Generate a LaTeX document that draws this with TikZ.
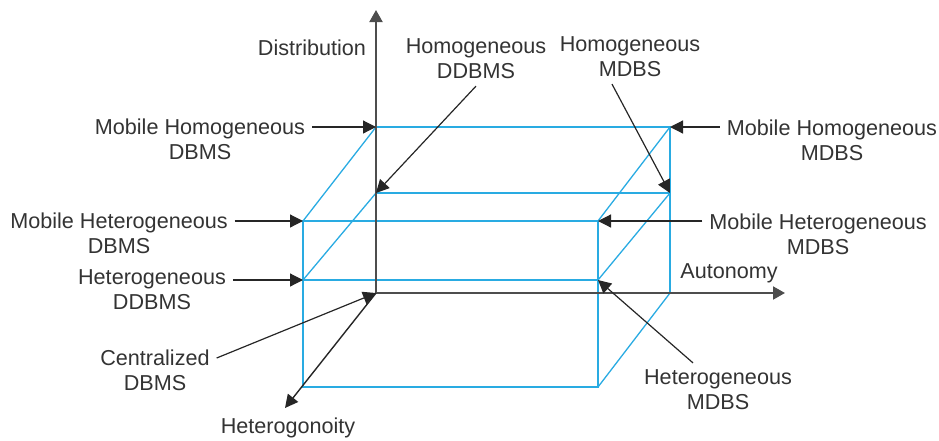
\documentclass[tikz,border=0pt]{standalone}
\usepackage{fontspec}
\setmainfont{Liberation Sans}
\usetikzlibrary{arrows.meta,calc,positioning}
\definecolor{cube}{HTML}{29ABE2}
\definecolor{ink}{HTML}{333333}
\definecolor{axisgray}{HTML}{4D4D4D}
\tikzset{>=Triangle,
  every node/.style={font=\fontsize{10.8}{12.5}\selectfont,text=ink,align=center},
  axis/.style={-{Triangle[length=6pt,width=6.5pt]},draw=axisgray,line width=1pt},
  cubeline/.style={draw=cube,line width=.65pt},
  pointer/.style={-{Triangle[length=6.5pt,width=6.5pt]},draw=black!85,line width=.6pt}}

\begin{document}
\begin{tikzpicture}[x=.5pt,y=-.5pt]
\useasboundingbox (0,0) rectangle (939,440);
% corners of the box
\coordinate (O) at (376,293);\coordinate (bTL) at (376,127);\coordinate (bTR) at (670,127);
\coordinate (bML) at (376,193);\coordinate (bMR) at (670,193);\coordinate (bBR) at (670,293);
\coordinate (fTL) at (303,221);\coordinate (fTR) at (598,221);
\coordinate (fML) at (303,280);\coordinate (fMR) at (598,280);
\coordinate (fBL) at (303,387);\coordinate (fBR) at (598,387);
\coordinate (distEnd) at (376,10);\coordinate (autoEnd) at (785,293);\coordinate (hetEnd) at (285,408);
% box
\draw[cubeline] (bTL)--(bTR)--(bBR) (bML)--(bMR);
\draw[cubeline] (fTL)--(fTR)--(fBR)--(fBL)--cycle (fML)--(fMR);
\draw[cubeline] (bTL)--(fTL) (bML)--(fML) (bTR)--(fTR) (bMR)--(fMR) (bBR)--(fBR);
% axes
\draw[axis] (O)--(distEnd);\draw[axis] (O)--(autoEnd);\draw[pointer,line width=.7pt] (O)--(hetEnd);
\node (distlbl) at (312,48) {Distribution};
\node (autolbl) at (729,273) {Autonomy};
\node (hetlbl) at (288,428) {Heterogonoity};
% labels
\node (hoddbms) at (476,59) {Homogeneous\\DDBMS};
\node (homdbs) at (630,57) {Homogeneous\\MDBS};
\node (mhdbms) at (200,139) {Mobile Homogeneous\\DBMS};
\node (mhmdbs) at (832,140) {Mobile Homogeneous\\MDBS};
\node (mhtdbms) at (119,233) {Mobile Heterogeneous\\DBMS};
\node (mhtmdbs) at (818,234) {Mobile Heterogeneous\\MDBS};
\node (htddbms) at (152,290) {Heterogeneous\\DDBMS};
\node (cdbms) at (155,370) {Centralized\\DBMS};
\node (htmdbs) at (718,390) {Heterogeneous\\MDBS};
% pointers
\draw[pointer] (mhdbms.east |- bTL)--(bTL);\draw[pointer] (mhmdbs.west |- bTR)--(bTR);
\draw[pointer] (mhtdbms.east |- fTL)--(fTL);\draw[pointer] (mhtmdbs.west |- fTR)--(fTR);
\draw[pointer] (htddbms.east |- fML)--(fML);
\draw[pointer] (hoddbms.south)--(bML);
\draw[pointer] ($(homdbs.south)+(-18,0)$)--(bMR);
\draw[pointer] ([yshift=6pt]cdbms.east)--(O);
\draw[pointer] ($(htmdbs.north)+(-25,0)$)--(fMR);
\end{tikzpicture}
\end{document}
